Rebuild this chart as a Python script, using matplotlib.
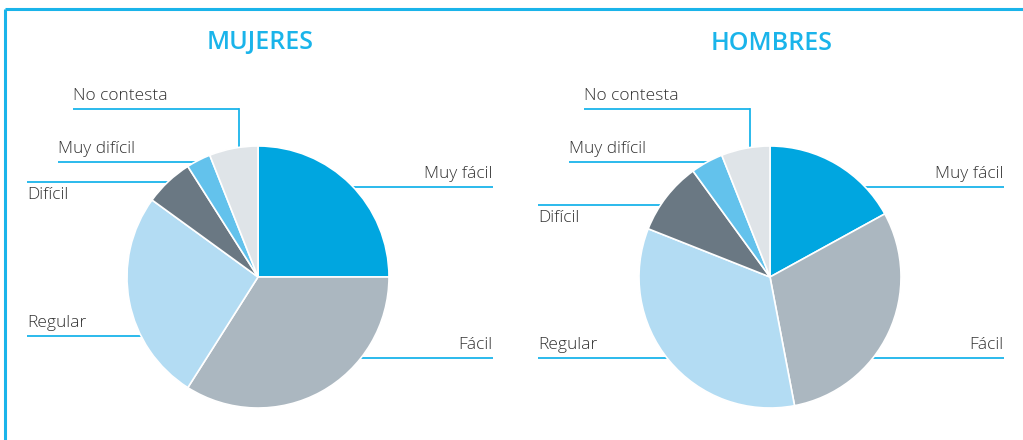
import matplotlib
matplotlib.use('Agg')
import matplotlib.pyplot as plt

# shares (%) per answer, clockwise from the top
categories = ['Muy fácil', 'Fácil', 'Regular', 'Difícil', 'Muy difícil', 'No contesta']
mujeres = [25, 34, 26, 6, 3, 6]
hombres = [17, 30, 34, 9, 4, 6]
titles = ['MUJERES', 'HOMBRES']

colors = ['#00a6e0', '#abb7c0', '#b3dcf3', '#6a7883', '#63c2ec', '#dfe4e8']
accent = '#1ab4ea'
text_col = '#333333'

plt.rcParams['font.family'] = ['Open Sans', 'DejaVu Sans']

fig = plt.figure(figsize=(10.23, 4.40), dpi=100)
ax = fig.add_axes([0, 0, 1, 1])

# leader-line layout per panel: (text x, text y, ha, line x0, line x1, line y)
def leaders(dx, y_dif, y_reg):
    return {
        'No contesta': (73 + dx, 100, 'left', 73 + dx, 239 + dx, 109),
        'Muy difícil': (58 + dx, 153, 'left', 58 + dx, 210 + dx, 162),
        'Difícil': (27 + dx, y_dif + 5, 'left', 27 + dx, 180 + dx, y_dif),
        'Regular': (27 + dx, y_reg - 9, 'left', 27 + dx, 160 + dx, y_reg),
        'Muy fácil': (492 + dx, 178, 'right', 340 + dx, 493 + dx, 187),
        'Fácil': (492 + dx, 349, 'right', 340 + dx, 493 + dx, 358),
    }

panels = [
    (mujeres, 258, 277, 131, leaders(0, 182, 336)),
    (hombres, 770, 277, 131, leaders(511, 205, 358)),
]

for (vals, cx, cy, r, lay), title in zip(panels, titles):
    ax.pie(vals, colors=colors, center=(cx, cy), radius=r,
           counterclock=True, startangle=-90,
           wedgeprops=dict(edgecolor='white', linewidth=1.2, zorder=3))
    ax.text(cx + 2, 43, title, ha='center', va='center', fontsize=18,
            fontweight='semibold', color=accent)
    for name in categories:
        tx, ty, ha, x0, x1, ly = lay[name]
        ax.plot([x0, x1], [ly, ly], color=accent, lw=1.3, zorder=1,
                solid_capstyle='butt')
        if name == 'No contesta':
            ax.plot([x1, x1], [ly, cy - r + 6], color=accent, lw=1.3,
                    zorder=1)
        va = 'top' if name == 'Difícil' else 'baseline'
        ax.text(tx, ty, name, ha=ha, va=va, fontsize=12.5, fontweight='light',
                color=text_col)

# outer frame: top and left rules
ax.plot([5, 1023], [9, 9], color=accent, lw=2.2, solid_capstyle='butt')
ax.plot([5, 5], [9, 440], color=accent, lw=2.2, solid_capstyle='butt')

ax.set_xlim(0, 1023)
ax.set_ylim(440, 0)
ax.set_aspect('equal')
ax.axis('off')

fig.savefig('out.png', dpi=100)
